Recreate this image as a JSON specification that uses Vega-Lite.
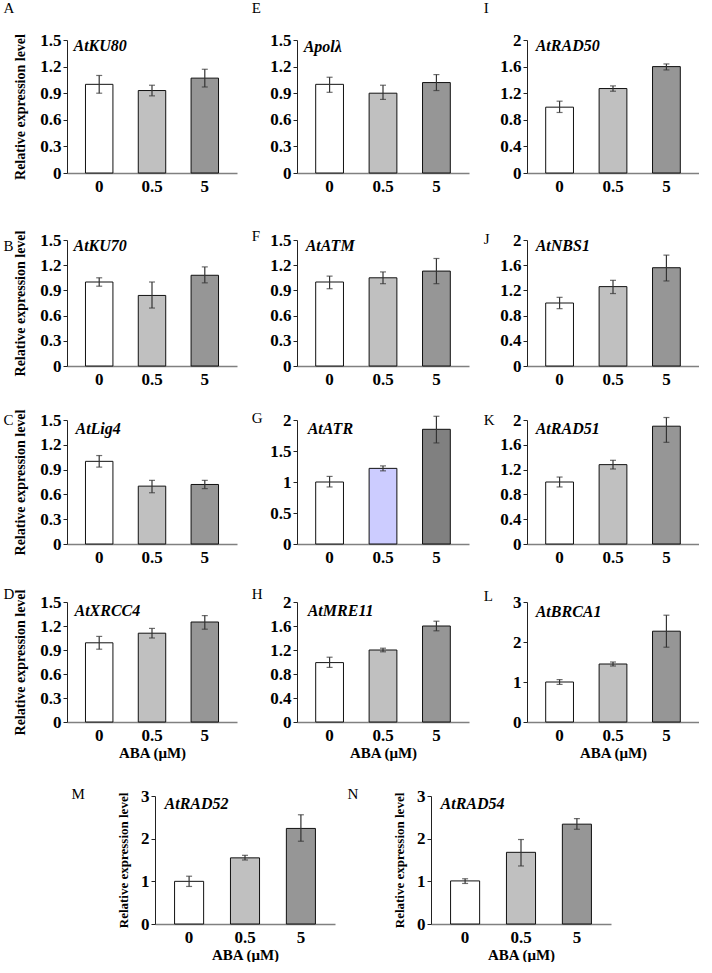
{
"$schema":"https://vega.github.io/schema/vega-lite/v6.json",
"padding":{"left":3,"top":1,"right":0,"bottom":0},
"background":"white",
"datasets":{
"bars":[
{"panel":"A","dose":"0","value":1.00,"lo":0.90,"hi":1.10},{"panel":"A","dose":"0.5","value":0.93,"lo":0.87,"hi":0.99},{"panel":"A","dose":"5","value":1.07,"lo":0.97,"hi":1.17},
{"panel":"E","dose":"0","value":1.00,"lo":0.91,"hi":1.08},{"panel":"E","dose":"0.5","value":0.90,"lo":0.83,"hi":0.99},{"panel":"E","dose":"5","value":1.02,"lo":0.93,"hi":1.11},
{"panel":"I","dose":"0","value":0.99,"lo":0.91,"hi":1.08},{"panel":"I","dose":"0.5","value":1.27,"lo":1.23,"hi":1.31},{"panel":"I","dose":"5","value":1.60,"lo":1.55,"hi":1.64},
{"panel":"B","dose":"0","value":1.00,"lo":0.95,"hi":1.05},{"panel":"B","dose":"0.5","value":0.84,"lo":0.69,"hi":1.00},{"panel":"B","dose":"5","value":1.08,"lo":0.99,"hi":1.18},
{"panel":"F","dose":"0","value":1.00,"lo":0.92,"hi":1.07},{"panel":"F","dose":"0.5","value":1.05,"lo":0.98,"hi":1.12},{"panel":"F","dose":"5","value":1.13,"lo":0.98,"hi":1.28},
{"panel":"J","dose":"0","value":1.00,"lo":0.91,"hi":1.09},{"panel":"J","dose":"0.5","value":1.26,"lo":1.15,"hi":1.36},{"panel":"J","dose":"5","value":1.56,"lo":1.35,"hi":1.76},
{"panel":"C","dose":"0","value":1.00,"lo":0.93,"hi":1.07},{"panel":"C","dose":"0.5","value":0.70,"lo":0.62,"hi":0.77},{"panel":"C","dose":"5","value":0.72,"lo":0.67,"hi":0.77},
{"panel":"G","dose":"0","value":1.00,"lo":0.92,"hi":1.09},{"panel":"G","dose":"0.5","value":1.22,"lo":1.18,"hi":1.26},{"panel":"G","dose":"5","value":1.85,"lo":1.63,"hi":2.06},
{"panel":"K","dose":"0","value":1.00,"lo":0.92,"hi":1.08},{"panel":"K","dose":"0.5","value":1.28,"lo":1.21,"hi":1.35},{"panel":"K","dose":"5","value":1.90,"lo":1.64,"hi":2.04},
{"panel":"D","dose":"0","value":0.99,"lo":0.91,"hi":1.07},{"panel":"D","dose":"0.5","value":1.11,"lo":1.05,"hi":1.17},{"panel":"D","dose":"5","value":1.25,"lo":1.16,"hi":1.33},
{"panel":"H","dose":"0","value":0.99,"lo":0.91,"hi":1.08},{"panel":"H","dose":"0.5","value":1.20,"lo":1.17,"hi":1.23},{"panel":"H","dose":"5","value":1.60,"lo":1.52,"hi":1.68},
{"panel":"L","dose":"0","value":1.00,"lo":0.94,"hi":1.06},{"panel":"L","dose":"0.5","value":1.45,"lo":1.40,"hi":1.50},{"panel":"L","dose":"5","value":2.27,"lo":1.87,"hi":2.67},
{"panel":"M","dose":"0","value":1.00,"lo":0.88,"hi":1.12},{"panel":"M","dose":"0.5","value":1.55,"lo":1.50,"hi":1.61},{"panel":"M","dose":"5","value":2.24,"lo":1.94,"hi":2.56},
{"panel":"N","dose":"0","value":1.01,"lo":0.95,"hi":1.06},{"panel":"N","dose":"0.5","value":1.68,"lo":1.36,"hi":1.98},{"panel":"N","dose":"5","value":2.34,"lo":2.22,"hi":2.47}
],
"labels":[
{"panel":"A","letter":"A","gene":"AtKU80","dose":"0","top":1.5},
{"panel":"E","letter":"E","gene":"Apolλ","dose":"0","top":1.5},
{"panel":"I","letter":"I","gene":"AtRAD50","dose":"0","top":2},
{"panel":"B","letter":"B","gene":"AtKU70","dose":"0","top":1.5},
{"panel":"F","letter":"F","gene":"AtATM","dose":"0","top":1.5},
{"panel":"J","letter":"J","gene":"AtNBS1","dose":"0","top":2},
{"panel":"C","letter":"C","gene":"AtLig4","dose":"0","top":1.5},
{"panel":"G","letter":"G","gene":"AtATR","dose":"0","top":2},
{"panel":"K","letter":"K","gene":"AtRAD51","dose":"0","top":2},
{"panel":"D","letter":"D","gene":"AtXRCC4","dose":"0","top":1.5},
{"panel":"H","letter":"H","gene":"AtMRE11","dose":"0","top":2},
{"panel":"L","letter":"L","gene":"AtBRCA1","dose":"0","top":3},
{"panel":"M","letter":"M","gene":"AtRAD52","dose":"0","top":3},
{"panel":"N","letter":"N","gene":"AtRAD54","dose":"0","top":3}
]
},
"vconcat":[
{"vconcat":[
{"hconcat":[
{"width":170,"height":133,"encoding":{"x":{"field":"dose","type":"nominal","title":null,"scale":{"domain":["0","0.5","5"],"paddingInner":0.48,"paddingOuter":0.35}}},
"layer":[
{"data":{"name":"bars"},"transform":[{"filter":{"field":"panel","equal":"A"}}],"mark":{"type":"bar","stroke":"#111111","strokeWidth":1},"encoding":{"y":{"field":"value","type":"quantitative","title":"Relative expression level","scale":{"domain":[0,1.5]},"axis":{"values":[0,0.3,0.6,0.9,1.2,1.5],"format":"~g","labelOverlap":false,"titlePadding":12,"titleFontSize":14}},"fill":{"field":"dose","type":"nominal","scale":{"domain":["0","0.5","5"],"range":["#ffffff","#c0c0c0","#969696"]},"legend":null}}},
{"data":{"name":"bars"},"transform":[{"filter":{"field":"panel","equal":"A"}}],"mark":{"type":"errorbar","ticks":{"size":6},"color":"#333333","thickness":1.2},"encoding":{"y":{"field":"lo","type":"quantitative","title":"Relative expression level","scale":{"domain":[0,1.5]},"axis":{"values":[0,0.3,0.6,0.9,1.2,1.5],"format":"~g","labelOverlap":false,"titlePadding":12,"titleFontSize":14}},"y2":{"field":"hi"}}},
{"data":{"name":"labels"},"transform":[{"filter":{"field":"panel","equal":"A"}}],"mark":{"type":"text","align":"left","baseline":"middle","fontSize":16,"fontStyle":"italic","fontWeight":"bold","dx":-12,"dy":6},"encoding":{"x":{"field":"dose","type":"nominal","title":null,"bandPosition":0,"scale":{"domain":["0","0.5","5"],"paddingInner":0.48,"paddingOuter":0.35}},"y":{"field":"top","type":"quantitative","title":"Relative expression level","scale":{"domain":[0,1.5]},"axis":{"values":[0,0.3,0.6,0.9,1.2,1.5],"format":"~g","labelOverlap":false,"titlePadding":12,"titleFontSize":14}},"text":{"field":"gene"}}},
{"data":{"name":"labels"},"transform":[{"filter":{"field":"panel","equal":"A"}}],"mark":{"type":"text","align":"left","baseline":"middle","fontSize":15,"dx":-82,"dy":-32},"encoding":{"x":{"field":"dose","type":"nominal","title":null,"bandPosition":0,"scale":{"domain":["0","0.5","5"],"paddingInner":0.48,"paddingOuter":0.35}},"y":{"field":"top","type":"quantitative","title":"Relative expression level","scale":{"domain":[0,1.5]},"axis":{"values":[0,0.3,0.6,0.9,1.2,1.5],"format":"~g","labelOverlap":false,"titlePadding":12,"titleFontSize":14}},"text":{"field":"letter"}}}
]},
{"width":172,"height":133,"encoding":{"x":{"field":"dose","type":"nominal","title":null,"scale":{"domain":["0","0.5","5"],"paddingInner":0.48,"paddingOuter":0.35}}},
"layer":[
{"data":{"name":"bars"},"transform":[{"filter":{"field":"panel","equal":"E"}}],"mark":{"type":"bar","stroke":"#111111","strokeWidth":1},"encoding":{"y":{"field":"value","type":"quantitative","title":null,"scale":{"domain":[0,1.5]},"axis":{"values":[0,0.3,0.6,0.9,1.2,1.5],"format":"~g","labelOverlap":false}},"fill":{"field":"dose","type":"nominal","scale":{"domain":["0","0.5","5"],"range":["#ffffff","#c0c0c0","#969696"]},"legend":null}}},
{"data":{"name":"bars"},"transform":[{"filter":{"field":"panel","equal":"E"}}],"mark":{"type":"errorbar","ticks":{"size":6},"color":"#333333","thickness":1.2},"encoding":{"y":{"field":"lo","type":"quantitative","title":null,"scale":{"domain":[0,1.5]},"axis":{"values":[0,0.3,0.6,0.9,1.2,1.5],"format":"~g","labelOverlap":false}},"y2":{"field":"hi"}}},
{"data":{"name":"labels"},"transform":[{"filter":{"field":"panel","equal":"E"}}],"mark":{"type":"text","align":"left","baseline":"middle","fontSize":16,"fontStyle":"italic","fontWeight":"bold","dx":-12,"dy":7},"encoding":{"x":{"field":"dose","type":"nominal","title":null,"bandPosition":0,"scale":{"domain":["0","0.5","5"],"paddingInner":0.48,"paddingOuter":0.35}},"y":{"field":"top","type":"quantitative","title":null,"scale":{"domain":[0,1.5]},"axis":{"values":[0,0.3,0.6,0.9,1.2,1.5],"format":"~g","labelOverlap":false}},"text":{"field":"gene"}}},
{"data":{"name":"labels"},"transform":[{"filter":{"field":"panel","equal":"E"}}],"mark":{"type":"text","align":"left","baseline":"middle","fontSize":15,"dx":-64,"dy":-32},"encoding":{"x":{"field":"dose","type":"nominal","title":null,"bandPosition":0,"scale":{"domain":["0","0.5","5"],"paddingInner":0.48,"paddingOuter":0.35}},"y":{"field":"top","type":"quantitative","title":null,"scale":{"domain":[0,1.5]},"axis":{"values":[0,0.3,0.6,0.9,1.2,1.5],"format":"~g","labelOverlap":false}},"text":{"field":"letter"}}}
]},
{"width":172,"height":133,"encoding":{"x":{"field":"dose","type":"nominal","title":null,"scale":{"domain":["0","0.5","5"],"paddingInner":0.48,"paddingOuter":0.35}}},
"layer":[
{"data":{"name":"bars"},"transform":[{"filter":{"field":"panel","equal":"I"}}],"mark":{"type":"bar","stroke":"#111111","strokeWidth":1},"encoding":{"y":{"field":"value","type":"quantitative","title":null,"scale":{"domain":[0,2]},"axis":{"values":[0,0.4,0.8,1.2,1.6,2],"format":"~g","labelOverlap":false}},"fill":{"field":"dose","type":"nominal","scale":{"domain":["0","0.5","5"],"range":["#ffffff","#c0c0c0","#969696"]},"legend":null}}},
{"data":{"name":"bars"},"transform":[{"filter":{"field":"panel","equal":"I"}}],"mark":{"type":"errorbar","ticks":{"size":6},"color":"#333333","thickness":1.2},"encoding":{"y":{"field":"lo","type":"quantitative","title":null,"scale":{"domain":[0,2]},"axis":{"values":[0,0.4,0.8,1.2,1.6,2],"format":"~g","labelOverlap":false}},"y2":{"field":"hi"}}},
{"data":{"name":"labels"},"transform":[{"filter":{"field":"panel","equal":"I"}}],"mark":{"type":"text","align":"left","baseline":"middle","fontSize":16,"fontStyle":"italic","fontWeight":"bold","dx":-10,"dy":6},"encoding":{"x":{"field":"dose","type":"nominal","title":null,"bandPosition":0,"scale":{"domain":["0","0.5","5"],"paddingInner":0.48,"paddingOuter":0.35}},"y":{"field":"top","type":"quantitative","title":null,"scale":{"domain":[0,2]},"axis":{"values":[0,0.4,0.8,1.2,1.6,2],"format":"~g","labelOverlap":false}},"text":{"field":"gene"}}},
{"data":{"name":"labels"},"transform":[{"filter":{"field":"panel","equal":"I"}}],"mark":{"type":"text","align":"left","baseline":"middle","fontSize":15,"dx":-62,"dy":-32},"encoding":{"x":{"field":"dose","type":"nominal","title":null,"bandPosition":0,"scale":{"domain":["0","0.5","5"],"paddingInner":0.48,"paddingOuter":0.35}},"y":{"field":"top","type":"quantitative","title":null,"scale":{"domain":[0,2]},"axis":{"values":[0,0.4,0.8,1.2,1.6,2],"format":"~g","labelOverlap":false}},"text":{"field":"letter"}}}
]}
],"spacing":14,"resolve":{"scale":{"fill":"independent"}}},
{"vconcat":[
{"hconcat":[
{"width":170,"height":126,"encoding":{"x":{"field":"dose","type":"nominal","title":null,"scale":{"domain":["0","0.5","5"],"paddingInner":0.48,"paddingOuter":0.35}}},
"layer":[
{"data":{"name":"bars"},"transform":[{"filter":{"field":"panel","equal":"B"}}],"mark":{"type":"bar","stroke":"#111111","strokeWidth":1},"encoding":{"y":{"field":"value","type":"quantitative","title":"Relative expression level","scale":{"domain":[0,1.5]},"axis":{"values":[0,0.3,0.6,0.9,1.2,1.5],"format":"~g","labelOverlap":false,"titlePadding":12,"titleFontSize":14}},"fill":{"field":"dose","type":"nominal","scale":{"domain":["0","0.5","5"],"range":["#ffffff","#c0c0c0","#969696"]},"legend":null}}},
{"data":{"name":"bars"},"transform":[{"filter":{"field":"panel","equal":"B"}}],"mark":{"type":"errorbar","ticks":{"size":6},"color":"#333333","thickness":1.2},"encoding":{"y":{"field":"lo","type":"quantitative","title":"Relative expression level","scale":{"domain":[0,1.5]},"axis":{"values":[0,0.3,0.6,0.9,1.2,1.5],"format":"~g","labelOverlap":false,"titlePadding":12,"titleFontSize":14}},"y2":{"field":"hi"}}},
{"data":{"name":"labels"},"transform":[{"filter":{"field":"panel","equal":"B"}}],"mark":{"type":"text","align":"left","baseline":"middle","fontSize":16,"fontStyle":"italic","fontWeight":"bold","dx":-12,"dy":6},"encoding":{"x":{"field":"dose","type":"nominal","title":null,"bandPosition":0,"scale":{"domain":["0","0.5","5"],"paddingInner":0.48,"paddingOuter":0.35}},"y":{"field":"top","type":"quantitative","title":"Relative expression level","scale":{"domain":[0,1.5]},"axis":{"values":[0,0.3,0.6,0.9,1.2,1.5],"format":"~g","labelOverlap":false,"titlePadding":12,"titleFontSize":14}},"text":{"field":"gene"}}},
{"data":{"name":"labels"},"transform":[{"filter":{"field":"panel","equal":"B"}}],"mark":{"type":"text","align":"left","baseline":"middle","fontSize":15,"dx":-82,"dy":6},"encoding":{"x":{"field":"dose","type":"nominal","title":null,"bandPosition":0,"scale":{"domain":["0","0.5","5"],"paddingInner":0.48,"paddingOuter":0.35}},"y":{"field":"top","type":"quantitative","title":"Relative expression level","scale":{"domain":[0,1.5]},"axis":{"values":[0,0.3,0.6,0.9,1.2,1.5],"format":"~g","labelOverlap":false,"titlePadding":12,"titleFontSize":14}},"text":{"field":"letter"}}}
]},
{"width":172,"height":126,"encoding":{"x":{"field":"dose","type":"nominal","title":null,"scale":{"domain":["0","0.5","5"],"paddingInner":0.48,"paddingOuter":0.35}}},
"layer":[
{"data":{"name":"bars"},"transform":[{"filter":{"field":"panel","equal":"F"}}],"mark":{"type":"bar","stroke":"#111111","strokeWidth":1},"encoding":{"y":{"field":"value","type":"quantitative","title":null,"scale":{"domain":[0,1.5]},"axis":{"values":[0,0.3,0.6,0.9,1.2,1.5],"format":"~g","labelOverlap":false}},"fill":{"field":"dose","type":"nominal","scale":{"domain":["0","0.5","5"],"range":["#ffffff","#c0c0c0","#969696"]},"legend":null}}},
{"data":{"name":"bars"},"transform":[{"filter":{"field":"panel","equal":"F"}}],"mark":{"type":"errorbar","ticks":{"size":6},"color":"#333333","thickness":1.2},"encoding":{"y":{"field":"lo","type":"quantitative","title":null,"scale":{"domain":[0,1.5]},"axis":{"values":[0,0.3,0.6,0.9,1.2,1.5],"format":"~g","labelOverlap":false}},"y2":{"field":"hi"}}},
{"data":{"name":"labels"},"transform":[{"filter":{"field":"panel","equal":"F"}}],"mark":{"type":"text","align":"left","baseline":"middle","fontSize":16,"fontStyle":"italic","fontWeight":"bold","dx":-10,"dy":6},"encoding":{"x":{"field":"dose","type":"nominal","title":null,"bandPosition":0,"scale":{"domain":["0","0.5","5"],"paddingInner":0.48,"paddingOuter":0.35}},"y":{"field":"top","type":"quantitative","title":null,"scale":{"domain":[0,1.5]},"axis":{"values":[0,0.3,0.6,0.9,1.2,1.5],"format":"~g","labelOverlap":false}},"text":{"field":"gene"}}},
{"data":{"name":"labels"},"transform":[{"filter":{"field":"panel","equal":"F"}}],"mark":{"type":"text","align":"left","baseline":"middle","fontSize":15,"dx":-64,"dy":-4},"encoding":{"x":{"field":"dose","type":"nominal","title":null,"bandPosition":0,"scale":{"domain":["0","0.5","5"],"paddingInner":0.48,"paddingOuter":0.35}},"y":{"field":"top","type":"quantitative","title":null,"scale":{"domain":[0,1.5]},"axis":{"values":[0,0.3,0.6,0.9,1.2,1.5],"format":"~g","labelOverlap":false}},"text":{"field":"letter"}}}
]},
{"width":172,"height":126,"encoding":{"x":{"field":"dose","type":"nominal","title":null,"scale":{"domain":["0","0.5","5"],"paddingInner":0.48,"paddingOuter":0.35}}},
"layer":[
{"data":{"name":"bars"},"transform":[{"filter":{"field":"panel","equal":"J"}}],"mark":{"type":"bar","stroke":"#111111","strokeWidth":1},"encoding":{"y":{"field":"value","type":"quantitative","title":null,"scale":{"domain":[0,2]},"axis":{"values":[0,0.4,0.8,1.2,1.6,2],"format":"~g","labelOverlap":false}},"fill":{"field":"dose","type":"nominal","scale":{"domain":["0","0.5","5"],"range":["#ffffff","#c0c0c0","#969696"]},"legend":null}}},
{"data":{"name":"bars"},"transform":[{"filter":{"field":"panel","equal":"J"}}],"mark":{"type":"errorbar","ticks":{"size":6},"color":"#333333","thickness":1.2},"encoding":{"y":{"field":"lo","type":"quantitative","title":null,"scale":{"domain":[0,2]},"axis":{"values":[0,0.4,0.8,1.2,1.6,2],"format":"~g","labelOverlap":false}},"y2":{"field":"hi"}}},
{"data":{"name":"labels"},"transform":[{"filter":{"field":"panel","equal":"J"}}],"mark":{"type":"text","align":"left","baseline":"middle","fontSize":16,"fontStyle":"italic","fontWeight":"bold","dx":-10,"dy":6},"encoding":{"x":{"field":"dose","type":"nominal","title":null,"bandPosition":0,"scale":{"domain":["0","0.5","5"],"paddingInner":0.48,"paddingOuter":0.35}},"y":{"field":"top","type":"quantitative","title":null,"scale":{"domain":[0,2]},"axis":{"values":[0,0.4,0.8,1.2,1.6,2],"format":"~g","labelOverlap":false}},"text":{"field":"gene"}}},
{"data":{"name":"labels"},"transform":[{"filter":{"field":"panel","equal":"J"}}],"mark":{"type":"text","align":"left","baseline":"middle","fontSize":15,"dx":-62,"dy":-1},"encoding":{"x":{"field":"dose","type":"nominal","title":null,"bandPosition":0,"scale":{"domain":["0","0.5","5"],"paddingInner":0.48,"paddingOuter":0.35}},"y":{"field":"top","type":"quantitative","title":null,"scale":{"domain":[0,2]},"axis":{"values":[0,0.4,0.8,1.2,1.6,2],"format":"~g","labelOverlap":false}},"text":{"field":"letter"}}}
]}
],"spacing":14,"resolve":{"scale":{"fill":"independent"}}},
{"vconcat":[
{"hconcat":[
{"width":170,"height":124,"encoding":{"x":{"field":"dose","type":"nominal","title":null,"scale":{"domain":["0","0.5","5"],"paddingInner":0.48,"paddingOuter":0.35}}},
"layer":[
{"data":{"name":"bars"},"transform":[{"filter":{"field":"panel","equal":"C"}}],"mark":{"type":"bar","stroke":"#111111","strokeWidth":1},"encoding":{"y":{"field":"value","type":"quantitative","title":"Relative expression level","scale":{"domain":[0,1.5]},"axis":{"values":[0,0.3,0.6,0.9,1.2,1.5],"format":"~g","labelOverlap":false,"titlePadding":12,"titleFontSize":14}},"fill":{"field":"dose","type":"nominal","scale":{"domain":["0","0.5","5"],"range":["#ffffff","#c0c0c0","#969696"]},"legend":null}}},
{"data":{"name":"bars"},"transform":[{"filter":{"field":"panel","equal":"C"}}],"mark":{"type":"errorbar","ticks":{"size":6},"color":"#333333","thickness":1.2},"encoding":{"y":{"field":"lo","type":"quantitative","title":"Relative expression level","scale":{"domain":[0,1.5]},"axis":{"values":[0,0.3,0.6,0.9,1.2,1.5],"format":"~g","labelOverlap":false,"titlePadding":12,"titleFontSize":14}},"y2":{"field":"hi"}}},
{"data":{"name":"labels"},"transform":[{"filter":{"field":"panel","equal":"C"}}],"mark":{"type":"text","align":"left","baseline":"middle","fontSize":16,"fontStyle":"italic","fontWeight":"bold","dx":-10,"dy":9},"encoding":{"x":{"field":"dose","type":"nominal","title":null,"bandPosition":0,"scale":{"domain":["0","0.5","5"],"paddingInner":0.48,"paddingOuter":0.35}},"y":{"field":"top","type":"quantitative","title":"Relative expression level","scale":{"domain":[0,1.5]},"axis":{"values":[0,0.3,0.6,0.9,1.2,1.5],"format":"~g","labelOverlap":false,"titlePadding":12,"titleFontSize":14}},"text":{"field":"gene"}}},
{"data":{"name":"labels"},"transform":[{"filter":{"field":"panel","equal":"C"}}],"mark":{"type":"text","align":"left","baseline":"middle","fontSize":15,"dx":-82,"dy":0},"encoding":{"x":{"field":"dose","type":"nominal","title":null,"bandPosition":0,"scale":{"domain":["0","0.5","5"],"paddingInner":0.48,"paddingOuter":0.35}},"y":{"field":"top","type":"quantitative","title":"Relative expression level","scale":{"domain":[0,1.5]},"axis":{"values":[0,0.3,0.6,0.9,1.2,1.5],"format":"~g","labelOverlap":false,"titlePadding":12,"titleFontSize":14}},"text":{"field":"letter"}}}
]},
{"width":172,"height":124,"encoding":{"x":{"field":"dose","type":"nominal","title":null,"scale":{"domain":["0","0.5","5"],"paddingInner":0.48,"paddingOuter":0.35}}},
"layer":[
{"data":{"name":"bars"},"transform":[{"filter":{"field":"panel","equal":"G"}}],"mark":{"type":"bar","stroke":"#111111","strokeWidth":1},"encoding":{"y":{"field":"value","type":"quantitative","title":null,"scale":{"domain":[0,2]},"axis":{"values":[0,0.5,1,1.5,2],"format":"~g","labelOverlap":false}},"fill":{"field":"dose","type":"nominal","scale":{"domain":["0","0.5","5"],"range":["#ffffff","#ccccff","#808080"]},"legend":null}}},
{"data":{"name":"bars"},"transform":[{"filter":{"field":"panel","equal":"G"}}],"mark":{"type":"errorbar","ticks":{"size":6},"color":"#333333","thickness":1.2},"encoding":{"y":{"field":"lo","type":"quantitative","title":null,"scale":{"domain":[0,2]},"axis":{"values":[0,0.5,1,1.5,2],"format":"~g","labelOverlap":false}},"y2":{"field":"hi"}}},
{"data":{"name":"labels"},"transform":[{"filter":{"field":"panel","equal":"G"}}],"mark":{"type":"text","align":"left","baseline":"middle","fontSize":16,"fontStyle":"italic","fontWeight":"bold","dx":-8,"dy":9},"encoding":{"x":{"field":"dose","type":"nominal","title":null,"bandPosition":0,"scale":{"domain":["0","0.5","5"],"paddingInner":0.48,"paddingOuter":0.35}},"y":{"field":"top","type":"quantitative","title":null,"scale":{"domain":[0,2]},"axis":{"values":[0,0.5,1,1.5,2],"format":"~g","labelOverlap":false}},"text":{"field":"gene"}}},
{"data":{"name":"labels"},"transform":[{"filter":{"field":"panel","equal":"G"}}],"mark":{"type":"text","align":"left","baseline":"middle","fontSize":15,"dx":-64,"dy":-2},"encoding":{"x":{"field":"dose","type":"nominal","title":null,"bandPosition":0,"scale":{"domain":["0","0.5","5"],"paddingInner":0.48,"paddingOuter":0.35}},"y":{"field":"top","type":"quantitative","title":null,"scale":{"domain":[0,2]},"axis":{"values":[0,0.5,1,1.5,2],"format":"~g","labelOverlap":false}},"text":{"field":"letter"}}}
]},
{"width":172,"height":124,"encoding":{"x":{"field":"dose","type":"nominal","title":null,"scale":{"domain":["0","0.5","5"],"paddingInner":0.48,"paddingOuter":0.35}}},
"layer":[
{"data":{"name":"bars"},"transform":[{"filter":{"field":"panel","equal":"K"}}],"mark":{"type":"bar","stroke":"#111111","strokeWidth":1},"encoding":{"y":{"field":"value","type":"quantitative","title":null,"scale":{"domain":[0,2]},"axis":{"values":[0,0.4,0.8,1.2,1.6,2],"format":"~g","labelOverlap":false}},"fill":{"field":"dose","type":"nominal","scale":{"domain":["0","0.5","5"],"range":["#ffffff","#c0c0c0","#969696"]},"legend":null}}},
{"data":{"name":"bars"},"transform":[{"filter":{"field":"panel","equal":"K"}}],"mark":{"type":"errorbar","ticks":{"size":6},"color":"#333333","thickness":1.2},"encoding":{"y":{"field":"lo","type":"quantitative","title":null,"scale":{"domain":[0,2]},"axis":{"values":[0,0.4,0.8,1.2,1.6,2],"format":"~g","labelOverlap":false}},"y2":{"field":"hi"}}},
{"data":{"name":"labels"},"transform":[{"filter":{"field":"panel","equal":"K"}}],"mark":{"type":"text","align":"left","baseline":"middle","fontSize":16,"fontStyle":"italic","fontWeight":"bold","dx":-10,"dy":9},"encoding":{"x":{"field":"dose","type":"nominal","title":null,"bandPosition":0,"scale":{"domain":["0","0.5","5"],"paddingInner":0.48,"paddingOuter":0.35}},"y":{"field":"top","type":"quantitative","title":null,"scale":{"domain":[0,2]},"axis":{"values":[0,0.4,0.8,1.2,1.6,2],"format":"~g","labelOverlap":false}},"text":{"field":"gene"}}},
{"data":{"name":"labels"},"transform":[{"filter":{"field":"panel","equal":"K"}}],"mark":{"type":"text","align":"left","baseline":"middle","fontSize":15,"dx":-62,"dy":0},"encoding":{"x":{"field":"dose","type":"nominal","title":null,"bandPosition":0,"scale":{"domain":["0","0.5","5"],"paddingInner":0.48,"paddingOuter":0.35}},"y":{"field":"top","type":"quantitative","title":null,"scale":{"domain":[0,2]},"axis":{"values":[0,0.4,0.8,1.2,1.6,2],"format":"~g","labelOverlap":false}},"text":{"field":"letter"}}}
]}
],"spacing":14,"resolve":{"scale":{"fill":"independent"}}},
{"hconcat":[
{"width":170,"height":120,"encoding":{"x":{"field":"dose","type":"nominal","title":"ABA (μM)","scale":{"domain":["0","0.5","5"],"paddingInner":0.48,"paddingOuter":0.35}}},
"layer":[
{"data":{"name":"bars"},"transform":[{"filter":{"field":"panel","equal":"D"}}],"mark":{"type":"bar","stroke":"#111111","strokeWidth":1},"encoding":{"y":{"field":"value","type":"quantitative","title":"Relative expression level","scale":{"domain":[0,1.5]},"axis":{"values":[0,0.3,0.6,0.9,1.2,1.5],"format":"~g","labelOverlap":false,"titlePadding":12,"titleFontSize":14}},"fill":{"field":"dose","type":"nominal","scale":{"domain":["0","0.5","5"],"range":["#ffffff","#c0c0c0","#969696"]},"legend":null}}},
{"data":{"name":"bars"},"transform":[{"filter":{"field":"panel","equal":"D"}}],"mark":{"type":"errorbar","ticks":{"size":6},"color":"#333333","thickness":1.2},"encoding":{"y":{"field":"lo","type":"quantitative","title":"Relative expression level","scale":{"domain":[0,1.5]},"axis":{"values":[0,0.3,0.6,0.9,1.2,1.5],"format":"~g","labelOverlap":false,"titlePadding":12,"titleFontSize":14}},"y2":{"field":"hi"}}},
{"data":{"name":"labels"},"transform":[{"filter":{"field":"panel","equal":"D"}}],"mark":{"type":"text","align":"left","baseline":"middle","fontSize":16,"fontStyle":"italic","fontWeight":"bold","dx":-11,"dy":9},"encoding":{"x":{"field":"dose","type":"nominal","title":"ABA (μM)","bandPosition":0,"scale":{"domain":["0","0.5","5"],"paddingInner":0.48,"paddingOuter":0.35}},"y":{"field":"top","type":"quantitative","title":"Relative expression level","scale":{"domain":[0,1.5]},"axis":{"values":[0,0.3,0.6,0.9,1.2,1.5],"format":"~g","labelOverlap":false,"titlePadding":12,"titleFontSize":14}},"text":{"field":"gene"}}},
{"data":{"name":"labels"},"transform":[{"filter":{"field":"panel","equal":"D"}}],"mark":{"type":"text","align":"left","baseline":"middle","fontSize":15,"dx":-82,"dy":-8},"encoding":{"x":{"field":"dose","type":"nominal","title":"ABA (μM)","bandPosition":0,"scale":{"domain":["0","0.5","5"],"paddingInner":0.48,"paddingOuter":0.35}},"y":{"field":"top","type":"quantitative","title":"Relative expression level","scale":{"domain":[0,1.5]},"axis":{"values":[0,0.3,0.6,0.9,1.2,1.5],"format":"~g","labelOverlap":false,"titlePadding":12,"titleFontSize":14}},"text":{"field":"letter"}}}
]},
{"width":172,"height":120,"encoding":{"x":{"field":"dose","type":"nominal","title":"ABA (μM)","scale":{"domain":["0","0.5","5"],"paddingInner":0.48,"paddingOuter":0.35}}},
"layer":[
{"data":{"name":"bars"},"transform":[{"filter":{"field":"panel","equal":"H"}}],"mark":{"type":"bar","stroke":"#111111","strokeWidth":1},"encoding":{"y":{"field":"value","type":"quantitative","title":null,"scale":{"domain":[0,2]},"axis":{"values":[0,0.4,0.8,1.2,1.6,2],"format":"~g","labelOverlap":false}},"fill":{"field":"dose","type":"nominal","scale":{"domain":["0","0.5","5"],"range":["#ffffff","#c0c0c0","#969696"]},"legend":null}}},
{"data":{"name":"bars"},"transform":[{"filter":{"field":"panel","equal":"H"}}],"mark":{"type":"errorbar","ticks":{"size":6},"color":"#333333","thickness":1.2},"encoding":{"y":{"field":"lo","type":"quantitative","title":null,"scale":{"domain":[0,2]},"axis":{"values":[0,0.4,0.8,1.2,1.6,2],"format":"~g","labelOverlap":false}},"y2":{"field":"hi"}}},
{"data":{"name":"labels"},"transform":[{"filter":{"field":"panel","equal":"H"}}],"mark":{"type":"text","align":"left","baseline":"middle","fontSize":16,"fontStyle":"italic","fontWeight":"bold","dx":-8,"dy":9},"encoding":{"x":{"field":"dose","type":"nominal","title":"ABA (μM)","bandPosition":0,"scale":{"domain":["0","0.5","5"],"paddingInner":0.48,"paddingOuter":0.35}},"y":{"field":"top","type":"quantitative","title":null,"scale":{"domain":[0,2]},"axis":{"values":[0,0.4,0.8,1.2,1.6,2],"format":"~g","labelOverlap":false}},"text":{"field":"gene"}}},
{"data":{"name":"labels"},"transform":[{"filter":{"field":"panel","equal":"H"}}],"mark":{"type":"text","align":"left","baseline":"middle","fontSize":15,"dx":-64,"dy":-8},"encoding":{"x":{"field":"dose","type":"nominal","title":"ABA (μM)","bandPosition":0,"scale":{"domain":["0","0.5","5"],"paddingInner":0.48,"paddingOuter":0.35}},"y":{"field":"top","type":"quantitative","title":null,"scale":{"domain":[0,2]},"axis":{"values":[0,0.4,0.8,1.2,1.6,2],"format":"~g","labelOverlap":false}},"text":{"field":"letter"}}}
]},
{"width":172,"height":120,"encoding":{"x":{"field":"dose","type":"nominal","title":"ABA (μM)","scale":{"domain":["0","0.5","5"],"paddingInner":0.48,"paddingOuter":0.35}}},
"layer":[
{"data":{"name":"bars"},"transform":[{"filter":{"field":"panel","equal":"L"}}],"mark":{"type":"bar","stroke":"#111111","strokeWidth":1},"encoding":{"y":{"field":"value","type":"quantitative","title":null,"scale":{"domain":[0,3]},"axis":{"values":[0,1,2,3],"format":"~g","labelOverlap":false}},"fill":{"field":"dose","type":"nominal","scale":{"domain":["0","0.5","5"],"range":["#ffffff","#c0c0c0","#969696"]},"legend":null}}},
{"data":{"name":"bars"},"transform":[{"filter":{"field":"panel","equal":"L"}}],"mark":{"type":"errorbar","ticks":{"size":6},"color":"#333333","thickness":1.2},"encoding":{"y":{"field":"lo","type":"quantitative","title":null,"scale":{"domain":[0,3]},"axis":{"values":[0,1,2,3],"format":"~g","labelOverlap":false}},"y2":{"field":"hi"}}},
{"data":{"name":"labels"},"transform":[{"filter":{"field":"panel","equal":"L"}}],"mark":{"type":"text","align":"left","baseline":"middle","fontSize":16,"fontStyle":"italic","fontWeight":"bold","dx":-10,"dy":10},"encoding":{"x":{"field":"dose","type":"nominal","title":"ABA (μM)","bandPosition":0,"scale":{"domain":["0","0.5","5"],"paddingInner":0.48,"paddingOuter":0.35}},"y":{"field":"top","type":"quantitative","title":null,"scale":{"domain":[0,3]},"axis":{"values":[0,1,2,3],"format":"~g","labelOverlap":false}},"text":{"field":"gene"}}},
{"data":{"name":"labels"},"transform":[{"filter":{"field":"panel","equal":"L"}}],"mark":{"type":"text","align":"left","baseline":"middle","fontSize":15,"dx":-62,"dy":-6},"encoding":{"x":{"field":"dose","type":"nominal","title":"ABA (μM)","bandPosition":0,"scale":{"domain":["0","0.5","5"],"paddingInner":0.48,"paddingOuter":0.35}},"y":{"field":"top","type":"quantitative","title":null,"scale":{"domain":[0,3]},"axis":{"values":[0,1,2,3],"format":"~g","labelOverlap":false}},"text":{"field":"letter"}}}
]}
],"spacing":14,"resolve":{"scale":{"fill":"independent"}}}
],"spacing":22,"resolve":{"scale":{"fill":"independent"}}}
],"spacing":22,"resolve":{"scale":{"fill":"independent"}}}
],"spacing":35,"resolve":{"scale":{"fill":"independent"}}},
{"hconcat":[
{"width":180,"height":128,"encoding":{"x":{"field":"dose","type":"nominal","title":"ABA (μM)","scale":{"domain":["0","0.5","5"],"paddingInner":0.48,"paddingOuter":0.35}}},
"layer":[
{"data":{"name":"bars"},"transform":[{"filter":{"field":"panel","equal":"M"}}],"mark":{"type":"bar","stroke":"#111111","strokeWidth":1},"encoding":{"y":{"field":"value","type":"quantitative","title":"Relative expression level","scale":{"domain":[0,3]},"axis":{"values":[0,1,2,3],"format":"~g","labelOverlap":false,"titlePadding":10}},"fill":{"field":"dose","type":"nominal","scale":{"domain":["0","0.5","5"],"range":["#ffffff","#c0c0c0","#969696"]},"legend":null}}},
{"data":{"name":"bars"},"transform":[{"filter":{"field":"panel","equal":"M"}}],"mark":{"type":"errorbar","ticks":{"size":6},"color":"#333333","thickness":1.2},"encoding":{"y":{"field":"lo","type":"quantitative","title":"Relative expression level","scale":{"domain":[0,3]},"axis":{"values":[0,1,2,3],"format":"~g","labelOverlap":false,"titlePadding":10}},"y2":{"field":"hi"}}},
{"data":{"name":"labels"},"transform":[{"filter":{"field":"panel","equal":"M"}}],"mark":{"type":"text","align":"left","baseline":"middle","fontSize":16,"fontStyle":"italic","fontWeight":"bold","dx":-10,"dy":8},"encoding":{"x":{"field":"dose","type":"nominal","title":"ABA (μM)","bandPosition":0,"scale":{"domain":["0","0.5","5"],"paddingInner":0.48,"paddingOuter":0.35}},"y":{"field":"top","type":"quantitative","title":"Relative expression level","scale":{"domain":[0,3]},"axis":{"values":[0,1,2,3],"format":"~g","labelOverlap":false,"titlePadding":10}},"text":{"field":"gene"}}},
{"data":{"name":"labels"},"transform":[{"filter":{"field":"panel","equal":"M"}}],"mark":{"type":"text","align":"left","baseline":"middle","fontSize":15,"dx":-103,"dy":-2},"encoding":{"x":{"field":"dose","type":"nominal","title":"ABA (μM)","bandPosition":0,"scale":{"domain":["0","0.5","5"],"paddingInner":0.48,"paddingOuter":0.35}},"y":{"field":"top","type":"quantitative","title":"Relative expression level","scale":{"domain":[0,3]},"axis":{"values":[0,1,2,3],"format":"~g","labelOverlap":false,"titlePadding":10}},"text":{"field":"letter"}}}
]},
{"width":180,"height":128,"encoding":{"x":{"field":"dose","type":"nominal","title":"ABA (μM)","scale":{"domain":["0","0.5","5"],"paddingInner":0.48,"paddingOuter":0.35}}},
"layer":[
{"data":{"name":"bars"},"transform":[{"filter":{"field":"panel","equal":"N"}}],"mark":{"type":"bar","stroke":"#111111","strokeWidth":1},"encoding":{"y":{"field":"value","type":"quantitative","title":"Relative expression level","scale":{"domain":[0,3]},"axis":{"values":[0,1,2,3],"format":"~g","labelOverlap":false,"titlePadding":10}},"fill":{"field":"dose","type":"nominal","scale":{"domain":["0","0.5","5"],"range":["#ffffff","#c0c0c0","#969696"]},"legend":null}}},
{"data":{"name":"bars"},"transform":[{"filter":{"field":"panel","equal":"N"}}],"mark":{"type":"errorbar","ticks":{"size":6},"color":"#333333","thickness":1.2},"encoding":{"y":{"field":"lo","type":"quantitative","title":"Relative expression level","scale":{"domain":[0,3]},"axis":{"values":[0,1,2,3],"format":"~g","labelOverlap":false,"titlePadding":10}},"y2":{"field":"hi"}}},
{"data":{"name":"labels"},"transform":[{"filter":{"field":"panel","equal":"N"}}],"mark":{"type":"text","align":"left","baseline":"middle","fontSize":16,"fontStyle":"italic","fontWeight":"bold","dx":-10,"dy":8},"encoding":{"x":{"field":"dose","type":"nominal","title":"ABA (μM)","bandPosition":0,"scale":{"domain":["0","0.5","5"],"paddingInner":0.48,"paddingOuter":0.35}},"y":{"field":"top","type":"quantitative","title":"Relative expression level","scale":{"domain":[0,3]},"axis":{"values":[0,1,2,3],"format":"~g","labelOverlap":false,"titlePadding":10}},"text":{"field":"gene"}}},
{"data":{"name":"labels"},"transform":[{"filter":{"field":"panel","equal":"N"}}],"mark":{"type":"text","align":"left","baseline":"middle","fontSize":15,"dx":-103,"dy":-2},"encoding":{"x":{"field":"dose","type":"nominal","title":"ABA (μM)","bandPosition":0,"scale":{"domain":["0","0.5","5"],"paddingInner":0.48,"paddingOuter":0.35}},"y":{"field":"top","type":"quantitative","title":"Relative expression level","scale":{"domain":[0,3]},"axis":{"values":[0,1,2,3],"format":"~g","labelOverlap":false,"titlePadding":10}},"text":{"field":"letter"}}}
]}
],"spacing":12,"resolve":{"scale":{"fill":"independent"}}}
],
"spacing":27,"center":true,"resolve":{"scale":{"fill":"independent"}},
"config":{
"font":"Liberation Serif",
"view":{"stroke":null},
"text":{"font":"Liberation Serif","color":"#000000"},
"axis":{"grid":false,"labelFont":"Liberation Serif","titleFont":"Liberation Serif","labelColor":"#000000","titleColor":"#000000","labelOverlap":false},
"axisX":{"ticks":false,"domainColor":"#808080","domainWidth":1.5,"labelAngle":0,"labelPadding":5,"labelFontSize":17,"labelFontWeight":"bold","titleFontSize":15,"titleFontWeight":"bold","titlePadding":2},
"axisY":{"domainColor":"#222222","tickColor":"#222222","tickSize":4,"labelPadding":2,"labelFontSize":17,"labelFontWeight":"bold","labelOverlap":false,"titleFontSize":13,"titleFontWeight":"bold","titlePadding":8}
}
}
